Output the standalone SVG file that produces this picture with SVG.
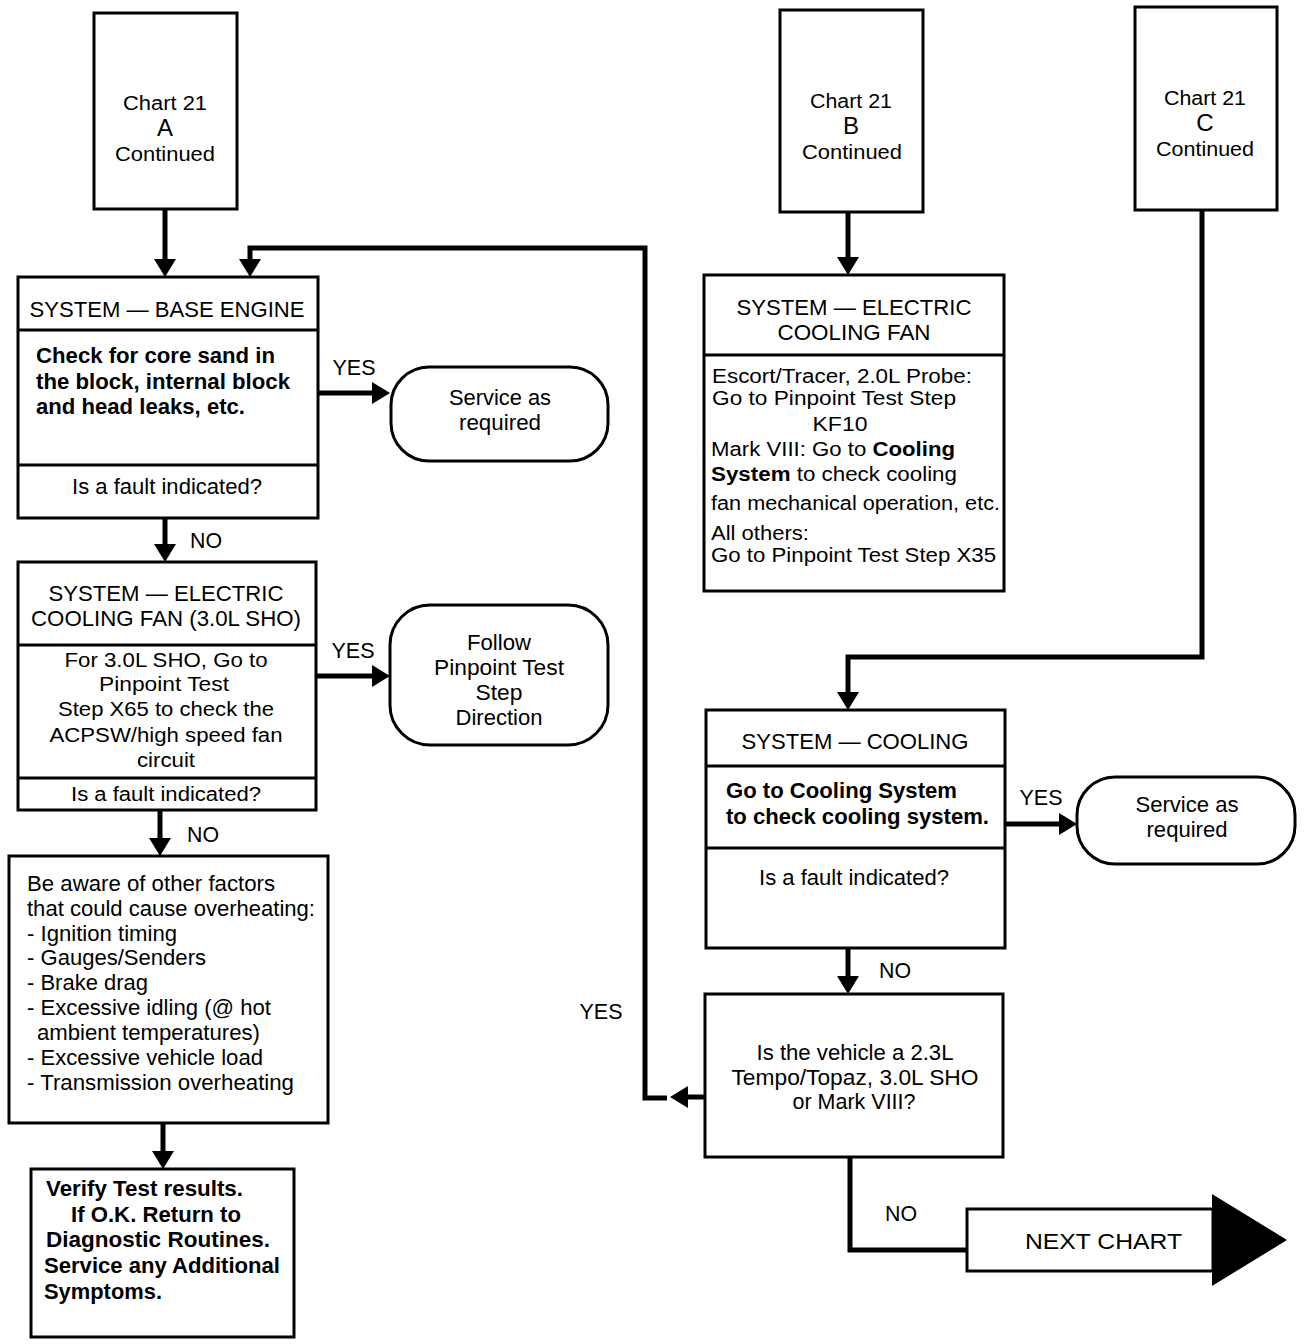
<svg xmlns="http://www.w3.org/2000/svg" width="1312" height="1344" viewBox="0 0 1312 1344">
<style>
.bx{fill:#fff;stroke:#000;stroke-width:3}
.dv{stroke:#000;stroke-width:3;fill:none}
.cn{stroke:#000;stroke-width:5;fill:none}
text{font-family:"Liberation Sans",Arial,sans-serif;font-size:22px;fill:#000}
.c{text-anchor:middle}
.b{font-weight:bold}
.big{font-size:24px}
.sm{font-size:20px}
</style>
<defs>
<marker id="ah" markerUnits="userSpaceOnUse" markerWidth="18" markerHeight="22" refX="8" refY="11" orient="auto">
<path d="M0,0 L18,11 L0,22 z" fill="#000"/>
</marker>
</defs>
<rect width="1312" height="1344" fill="#fff"/>

<g id="connectors">
<path class="cn" d="M165,209 V267" marker-end="url(#ah)"/>
<path class="cn" d="M318,393 H380" marker-end="url(#ah)"/>
<path class="cn" d="M165,518 V552" marker-end="url(#ah)"/>
<path class="cn" d="M316,676 H380" marker-end="url(#ah)"/>
<path class="cn" d="M160,810 V846" marker-end="url(#ah)"/>
<path class="cn" d="M163,1123 V1159" marker-end="url(#ah)"/>
<path class="cn" d="M848,212 V265" marker-end="url(#ah)"/>
<path class="cn" d="M1202,210 V657 H848 V700" marker-end="url(#ah)"/>
<path class="cn" d="M1005,824 H1067" marker-end="url(#ah)"/>
<path class="cn" d="M848,948 V984" marker-end="url(#ah)"/>
<path class="cn" d="M705,1097 H680" marker-end="url(#ah)"/>
<path class="cn" d="M667,1098 H645 V248 H250 V267" marker-end="url(#ah)"/>
<path class="cn" d="M850,1157 V1250 H967"/>
<text x="354" y="375" class="c" textLength="43" lengthAdjust="spacingAndGlyphs">YES</text>
<text x="206" y="548" class="c" textLength="32" lengthAdjust="spacingAndGlyphs">NO</text>
<text x="353" y="658" class="c" textLength="43" lengthAdjust="spacingAndGlyphs">YES</text>
<text x="203" y="842" class="c" textLength="32" lengthAdjust="spacingAndGlyphs">NO</text>
<text x="601" y="1019" class="c" textLength="43" lengthAdjust="spacingAndGlyphs">YES</text>
<text x="1041" y="805" class="c" textLength="43" lengthAdjust="spacingAndGlyphs">YES</text>
<text x="895" y="978" class="c" textLength="32" lengthAdjust="spacingAndGlyphs">NO</text>
<text x="901" y="1221" class="c" textLength="32" lengthAdjust="spacingAndGlyphs">NO</text>
</g>

<g id="chartA">
<rect class="bx" x="94" y="13" width="143" height="196"/>
<text x="165" y="110" class="c sm" textLength="84" lengthAdjust="spacingAndGlyphs">Chart 21</text>
<text x="165" y="136" class="c big">A</text>
<text x="165" y="161" class="c sm" textLength="100" lengthAdjust="spacingAndGlyphs">Continued</text>
</g>

<g id="baseEngine">
<rect class="bx" x="18" y="277" width="300" height="241"/>
<path class="dv" d="M18,330 H318 M18,465 H318"/>
<text x="167" y="317" class="c" textLength="275" lengthAdjust="spacingAndGlyphs">SYSTEM — BASE ENGINE</text>
<text x="36" y="363" class="b" textLength="239" lengthAdjust="spacingAndGlyphs">Check for core sand in</text>
<text x="36" y="389" class="b" textLength="254" lengthAdjust="spacingAndGlyphs">the block, internal block</text>
<text x="36" y="414" class="b" textLength="209" lengthAdjust="spacingAndGlyphs">and head leaks, etc.</text>
<text x="167" y="494" class="c" textLength="190" lengthAdjust="spacingAndGlyphs">Is a fault indicated?</text>
</g>

<g id="serviceA">
<rect class="bx" x="391" y="367" width="217" height="94" rx="38" ry="38"/>
<text x="500" y="405" class="c" textLength="102" lengthAdjust="spacingAndGlyphs">Service as</text>
<text x="500" y="430" class="c" textLength="82" lengthAdjust="spacingAndGlyphs">required</text>
</g>

<g id="fanSHO">
<rect class="bx" x="18" y="562" width="298" height="248"/>
<path class="dv" d="M18,645 H316 M18,778 H316"/>
<text x="166" y="601" class="c" textLength="235" lengthAdjust="spacingAndGlyphs">SYSTEM — ELECTRIC</text>
<text x="166" y="626" class="c" textLength="270" lengthAdjust="spacingAndGlyphs">COOLING FAN (3.0L SHO)</text>
<text x="166" y="667" class="c sm" textLength="203" lengthAdjust="spacingAndGlyphs">For 3.0L SHO, Go to</text>
<text x="164" y="691" class="c sm" textLength="130" lengthAdjust="spacingAndGlyphs">Pinpoint Test</text>
<text x="166" y="716" class="c sm" textLength="216" lengthAdjust="spacingAndGlyphs">Step X65 to check the</text>
<text x="166" y="742" class="c sm" textLength="233" lengthAdjust="spacingAndGlyphs">ACPSW/high speed fan</text>
<text x="166" y="767" class="c sm" textLength="58" lengthAdjust="spacingAndGlyphs">circuit</text>
<text x="166" y="801" class="c sm" textLength="190" lengthAdjust="spacingAndGlyphs">Is a fault indicated?</text>
</g>

<g id="followPinpoint">
<rect class="bx" x="390" y="605" width="218" height="140" rx="40" ry="40"/>
<text x="499" y="650" class="c" textLength="64" lengthAdjust="spacingAndGlyphs">Follow</text>
<text x="499" y="675" class="c" textLength="130" lengthAdjust="spacingAndGlyphs">Pinpoint Test</text>
<text x="499" y="700" class="c" textLength="47" lengthAdjust="spacingAndGlyphs">Step</text>
<text x="499" y="725" class="c" textLength="87" lengthAdjust="spacingAndGlyphs">Direction</text>
</g>

<g id="otherFactors">
<rect class="bx" x="9" y="856" width="319" height="267"/>
<text x="27" y="891" textLength="248" lengthAdjust="spacingAndGlyphs">Be aware of other factors</text>
<text x="27" y="916" textLength="288" lengthAdjust="spacingAndGlyphs">that could cause overheating:</text>
<text x="27" y="941" textLength="150" lengthAdjust="spacingAndGlyphs">- Ignition timing</text>
<text x="27" y="965" textLength="179" lengthAdjust="spacingAndGlyphs">- Gauges/Senders</text>
<text x="27" y="990" textLength="121" lengthAdjust="spacingAndGlyphs">- Brake drag</text>
<text x="27" y="1015" textLength="244" lengthAdjust="spacingAndGlyphs">- Excessive idling (@ hot</text>
<text x="37" y="1040" textLength="223" lengthAdjust="spacingAndGlyphs">ambient temperatures)</text>
<text x="27" y="1065" textLength="236" lengthAdjust="spacingAndGlyphs">- Excessive vehicle load</text>
<text x="27" y="1090" textLength="267" lengthAdjust="spacingAndGlyphs">- Transmission overheating</text>
</g>

<g id="verify">
<rect class="bx" x="31" y="1169" width="263" height="168"/>
<text x="46" y="1196" class="b" textLength="197" lengthAdjust="spacingAndGlyphs">Verify Test results.</text>
<text x="71" y="1222" class="b" textLength="170" lengthAdjust="spacingAndGlyphs">If O.K. Return to</text>
<text x="46" y="1247" class="b" textLength="224" lengthAdjust="spacingAndGlyphs">Diagnostic Routines.</text>
<text x="44" y="1273" class="b" textLength="236" lengthAdjust="spacingAndGlyphs">Service any Additional</text>
<text x="44" y="1299" class="b" textLength="118" lengthAdjust="spacingAndGlyphs">Symptoms.</text>
</g>

<g id="chartB">
<rect class="bx" x="780" y="10" width="143" height="202"/>
<text x="851" y="108" class="c sm" textLength="82" lengthAdjust="spacingAndGlyphs">Chart 21</text>
<text x="851" y="134" class="c big">B</text>
<text x="852" y="159" class="c sm" textLength="100" lengthAdjust="spacingAndGlyphs">Continued</text>
</g>

<g id="fanB">
<rect class="bx" x="704" y="275" width="300" height="316"/>
<path class="dv" d="M704,355 H1004"/>
<text x="854" y="315" class="c" textLength="235" lengthAdjust="spacingAndGlyphs">SYSTEM — ELECTRIC</text>
<text x="854" y="340" class="c" textLength="153" lengthAdjust="spacingAndGlyphs">COOLING FAN</text>
<text x="712" y="383" class="sm" textLength="260" lengthAdjust="spacingAndGlyphs">Escort/Tracer, 2.0L Probe:</text>
<text x="712" y="405" class="sm" textLength="244" lengthAdjust="spacingAndGlyphs">Go to  Pinpoint Test Step</text>
<text x="840" y="431" class="c sm" textLength="55" lengthAdjust="spacingAndGlyphs">KF10</text>
<text x="711" y="456" class="sm" textLength="244" lengthAdjust="spacingAndGlyphs">Mark VIII: Go to <tspan class="b">Cooling</tspan></text>
<text x="711" y="481" class="sm" textLength="246" lengthAdjust="spacingAndGlyphs"><tspan class="b">System</tspan> to check cooling</text>
<text x="711" y="510" class="sm" textLength="289" lengthAdjust="spacingAndGlyphs">fan mechanical operation, etc.</text>
<text x="711" y="540" class="sm" textLength="98" lengthAdjust="spacingAndGlyphs">All others:</text>
<text x="711" y="562" class="sm" textLength="285" lengthAdjust="spacingAndGlyphs">Go to Pinpoint Test Step X35</text>
</g>

<g id="chartC">
<rect class="bx" x="1135" y="7" width="142" height="203"/>
<text x="1205" y="105" class="c sm" textLength="82" lengthAdjust="spacingAndGlyphs">Chart 21</text>
<text x="1205" y="131" class="c big">C</text>
<text x="1205" y="156" class="c sm" textLength="98" lengthAdjust="spacingAndGlyphs">Continued</text>
</g>

<g id="cooling">
<rect class="bx" x="706" y="710" width="299" height="238"/>
<path class="dv" d="M706,766 H1005 M706,848 H1005"/>
<text x="855" y="749" class="c" textLength="227" lengthAdjust="spacingAndGlyphs">SYSTEM — COOLING</text>
<text x="726" y="798" class="b" textLength="231" lengthAdjust="spacingAndGlyphs">Go to Cooling System</text>
<text x="726" y="824" class="b" textLength="263" lengthAdjust="spacingAndGlyphs">to check cooling system.</text>
<text x="854" y="885" class="c" textLength="190" lengthAdjust="spacingAndGlyphs">Is a fault indicated?</text>
</g>

<g id="serviceC">
<rect class="bx" x="1077" y="777" width="218" height="87" rx="38" ry="38"/>
<text x="1187" y="812" class="c" textLength="103" lengthAdjust="spacingAndGlyphs">Service as</text>
<text x="1187" y="837" class="c" textLength="81" lengthAdjust="spacingAndGlyphs">required</text>
</g>

<g id="vehicleQuestion">
<rect class="bx" x="705" y="994" width="298" height="163"/>
<text x="855" y="1060" class="c" textLength="197" lengthAdjust="spacingAndGlyphs">Is the vehicle a 2.3L</text>
<text x="855" y="1085" class="c" textLength="247" lengthAdjust="spacingAndGlyphs">Tempo/Topaz, 3.0L SHO</text>
<text x="854" y="1109" class="c" textLength="123" lengthAdjust="spacingAndGlyphs">or Mark VIII?</text>
</g>

<g id="nextChart">
<rect class="bx" x="967" y="1209" width="246" height="62"/>
<polygon points="1212,1194 1287,1240 1212,1286" fill="#000"/>
<text x="1025" y="1249" textLength="157" lengthAdjust="spacingAndGlyphs">NEXT  CHART</text>
</g>
</svg>
